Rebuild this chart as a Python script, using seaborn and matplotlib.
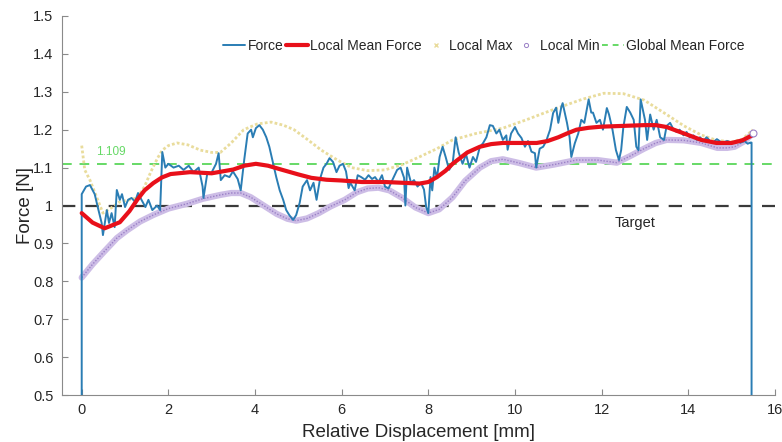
import matplotlib
matplotlib.use('Agg')
import matplotlib.pyplot as plt
from matplotlib.lines import Line2D
import pandas as pd
import seaborn as sns

# ---- data ----
force_x = [0.0, 0.0, 0.1, 0.19, 0.3, 0.37, 0.46, 0.49, 0.58, 0.63, 0.69, 0.76, 0.81, 0.88, 0.93, 1.0,
           1.07, 1.15, 1.23, 1.3, 1.38, 1.47, 1.54, 1.63, 1.74, 1.81, 1.86, 1.93, 2.0, 2.12, 2.24, 2.35,
           2.47, 2.58, 2.7, 2.79, 2.81, 2.9, 2.98, 3.1, 3.16, 3.21, 3.3, 3.41, 3.49, 3.6, 3.67, 3.75,
           3.83, 3.91, 3.95, 4.02, 4.1, 4.18, 4.26, 4.33, 4.42, 4.49, 4.57, 4.65, 4.72, 4.79, 4.88,
           4.95, 5.03, 5.1, 5.2, 5.27, 5.35, 5.42, 5.5, 5.58, 5.65, 5.72, 5.8, 5.88, 5.95, 6.03, 6.1,
           6.16, 6.2, 6.3, 6.37, 6.45, 6.54, 6.62, 6.7, 6.77, 6.85, 6.93, 7.0, 7.08, 7.16, 7.28, 7.36,
           7.44, 7.47, 7.51, 7.6, 7.67, 7.75, 7.83, 7.9, 7.95, 8.0, 8.05, 8.09, 8.14, 8.2, 8.26, 8.33,
           8.4, 8.48, 8.56, 8.63, 8.7, 8.79, 8.87, 8.95, 9.03, 9.1, 9.19, 9.26, 9.34, 9.42, 9.49, 9.57,
           9.64, 9.72, 9.8, 9.83, 9.91, 10.0, 10.07, 10.15, 10.23, 10.3, 10.38, 10.46, 10.49, 10.57,
           10.65, 10.72, 10.81, 10.88, 10.95, 11.0, 11.07, 11.1, 11.2, 11.26, 11.3, 11.38, 11.46,
           11.53, 11.6, 11.7, 11.76, 11.8, 11.88, 11.96, 12.03, 12.12, 12.17, 12.25, 12.33, 12.4,
           12.45, 12.5, 12.58, 12.66, 12.74, 12.8, 12.85, 12.9, 13.0, 13.05, 13.12, 13.2, 13.27,
           13.35, 13.44, 13.5, 13.58, 13.66, 13.73, 13.8, 13.89, 13.96, 14.03, 14.12, 14.2, 14.27,
           14.35, 14.42, 14.55, 14.66, 14.77, 14.9, 15.0, 15.1, 15.2, 15.3, 15.37, 15.43, 15.46, 15.46]
force_y = [0.5, 1.03, 1.05, 1.054, 1.03, 0.996, 0.954, 0.922, 0.988, 0.954, 0.98, 0.943, 1.041, 1.015,
           1.03, 0.996, 1.015, 1.02, 1.01, 1.033, 1.015, 0.996, 1.015, 0.988, 1.0, 0.988, 1.141, 1.10,
           1.11, 1.1, 1.105, 1.094, 1.105, 1.088, 1.1, 1.05, 1.02, 1.086, 1.083, 1.11, 1.138, 1.067,
           1.08, 1.075, 1.09, 1.07, 1.04, 1.12, 1.19, 1.2, 1.18, 1.204, 1.212, 1.2, 1.18, 1.155, 1.11,
           1.075, 1.04, 1.015, 0.988, 0.975, 0.962, 0.975, 1.007, 1.05, 1.067, 1.04, 1.06, 1.015, 1.07,
           1.10, 1.11, 1.125, 1.115, 1.088, 1.105, 1.11, 1.09, 1.046, 1.06, 1.04, 1.08, 1.075, 1.068,
           1.08, 1.07, 1.075, 1.062, 1.08, 1.05, 1.045, 1.065, 1.094, 1.1, 1.073, 1.0, 1.1, 1.06, 1.067,
           1.05, 1.06, 1.042, 0.996, 0.98, 1.075, 1.04, 1.1, 1.073, 1.128, 1.155, 1.128, 1.094, 1.11,
           1.18, 1.14, 1.11, 1.135, 1.10, 1.128, 1.115, 1.155, 1.164, 1.18, 1.212, 1.21, 1.19, 1.2,
           1.173, 1.185, 1.147, 1.19, 1.207, 1.19, 1.178, 1.155, 1.17, 1.142, 1.138, 1.10, 1.15, 1.155,
           1.17, 1.2, 1.244, 1.258, 1.218, 1.26, 1.27, 1.218, 1.18, 1.128, 1.164, 1.19, 1.226, 1.218,
           1.28, 1.245, 1.245, 1.218, 1.226, 1.2, 1.257, 1.24, 1.2, 1.146, 1.12, 1.146, 1.206, 1.26,
           1.245, 1.226, 1.155, 1.146, 1.28, 1.226, 1.173, 1.24, 1.2, 1.226, 1.18, 1.173, 1.21, 1.218,
           1.2, 1.194, 1.2, 1.185, 1.194, 1.18, 1.185, 1.173, 1.18, 1.17, 1.18, 1.165, 1.175, 1.166,
           1.17, 1.166, 1.17, 1.166, 1.17, 1.163, 1.166, 1.166, 0.5]

mean_x = [0.0, 0.25, 0.53, 0.88, 1.1, 1.28, 1.45, 1.65, 1.85, 2.05, 2.5, 3.0, 3.5, 3.75, 4.02, 4.3,
          4.6, 5.0, 5.3, 5.65, 6.0, 6.47, 7.0, 7.4, 7.8, 8.0, 8.2, 8.4, 8.56, 8.9, 9.19, 9.45, 9.72,
          10.1, 10.5, 10.75, 11.0, 11.2, 11.42, 11.7, 12.0, 12.5, 12.98, 13.25, 13.5, 13.9, 14.3,
          14.65, 15.0, 15.25, 15.49]
mean_y = [0.98, 0.955, 0.94, 0.956, 0.985, 1.015, 1.04, 1.059, 1.074, 1.083, 1.088, 1.085, 1.095,
          1.105, 1.11, 1.105, 1.095, 1.082, 1.073, 1.068, 1.066, 1.062, 1.062, 1.06, 1.058, 1.062,
          1.075, 1.092, 1.11, 1.14, 1.155, 1.162, 1.165, 1.165, 1.165, 1.17, 1.18, 1.19, 1.2, 1.205,
          1.208, 1.21, 1.212, 1.212, 1.207, 1.19, 1.173, 1.165, 1.165, 1.172, 1.186]

max_x = [0.0, 0.07, 0.19, 0.37, 0.49, 0.7, 0.88, 1.1, 1.28, 1.45, 1.6, 1.75, 1.86, 2.0, 2.2, 2.45,
         2.74, 3.0, 3.2, 3.45, 3.74, 4.05, 4.37, 4.65, 4.9, 5.2, 5.53, 5.9, 6.23, 6.6, 7.0, 7.4, 7.79,
         8.2, 8.56, 9.1, 9.72, 10.26, 10.65, 11.05, 11.55, 12.05, 12.5, 12.98, 13.5, 13.9, 14.3,
         14.65, 15.0, 15.25, 15.49]
max_y = [1.158, 1.094, 1.067, 1.015, 0.98, 0.995, 1.01, 1.015, 1.02, 1.05, 1.09, 1.125, 1.146, 1.158,
         1.165, 1.16, 1.146, 1.14, 1.14, 1.165, 1.2, 1.215, 1.22, 1.212, 1.2, 1.175, 1.146, 1.12,
         1.10, 1.092, 1.094, 1.108, 1.128, 1.15, 1.173, 1.19, 1.204, 1.226, 1.243, 1.26, 1.28,
         1.296, 1.295, 1.278, 1.24, 1.21, 1.186, 1.172, 1.168, 1.175, 1.2]

min_x = [0.0, 0.25, 0.49, 0.81, 1.05, 1.35, 1.65, 2.0, 2.44, 2.8, 3.2, 3.45, 3.67, 3.9, 4.2, 4.5,
         4.75, 4.95, 5.2, 5.47, 5.75, 6.07, 6.35, 6.6, 6.85, 7.1, 7.4, 7.7, 8.0, 8.25, 8.56, 8.85,
         9.19, 9.45, 9.72, 10.1, 10.49, 10.9, 11.42, 11.9, 12.35, 12.65, 12.98, 13.25, 13.5, 13.9,
         14.3, 14.67, 14.9, 15.07, 15.3, 15.49]
min_y = [0.81, 0.845, 0.875, 0.914, 0.935, 0.958, 0.975, 0.992, 1.005, 1.018, 1.028, 1.033, 1.033,
         1.022, 1.0, 0.978, 0.965, 0.96, 0.966, 0.98, 0.998, 1.015, 1.035, 1.045, 1.047, 1.04, 1.02,
         0.995, 0.98, 0.99, 1.022, 1.065, 1.10, 1.117, 1.122, 1.112, 1.10, 1.108, 1.12, 1.12, 1.113,
         1.13, 1.15, 1.165, 1.173, 1.172, 1.165, 1.152, 1.152, 1.155, 1.17, 1.19]

global_mean = 1.109
target = 1.0

x_ticks = [0, 2, 4, 6, 8, 10, 12, 14, 16]
y_ticks = [0.5, 0.6, 0.7, 0.8, 0.9, 1.0, 1.1, 1.2, 1.3, 1.4, 1.5]
y_tick_labels = ['0.5', '0.6', '0.7', '0.8', '0.9', '1', '1.1', '1.2', '1.3', '1.4', '1.5']

# ---- styling ----
sns.set_theme(style='ticks')
plt.rcParams['font.family'] = ['Liberation Sans', 'DejaVu Sans']

c_force = '#2a7db4'
c_mean = '#e8101a'
c_max = '#e9dc9c'
c_min_fill = '#cdbde6'
c_min_edge = '#9a80c6'
c_global = '#66d966'
c_target = '#3a3a3a'
c_text = '#262626'
c_axis = '#8a8a8a'

fig = plt.figure(figsize=(7.82, 4.42), dpi=100)
ax = fig.add_axes([0.079, 0.106, 0.912, 0.858])

force_df = pd.DataFrame({'x': force_x, 'y': force_y})
mean_df = pd.DataFrame({'x': mean_x, 'y': mean_y})
max_df = pd.DataFrame({'x': max_x, 'y': max_y})
min_df = pd.DataFrame({'x': min_x, 'y': min_y})

ax.axhline(target, color=c_target, lw=1.6, dashes=(6, 4.5), zorder=1)
ax.axhline(global_mean, color=c_global, lw=1.4, dashes=(5, 4), zorder=1)

# local min drawn as a band of small circles
sns.lineplot(min_df, x='x', y='y', sort=False, estimator=None, color=c_min_fill, lw=4.5, ax=ax, zorder=2)
sns.lineplot(min_df, x='x', y='y', sort=False, estimator=None, color=c_min_edge, lw=1.0,
             dashes=[(1, 1.2)], style=[0] * len(min_x), legend=False, ax=ax, zorder=2)
# local max drawn as fine dotted crosses
sns.lineplot(max_df, x='x', y='y', sort=False, estimator=None, color=c_max, lw=2.0,
             dashes=[(1, 0.8)], style=[0] * len(max_x), legend=False, ax=ax, zorder=2)

sns.lineplot(force_df, x='x', y='y', sort=False, estimator=None, color=c_force, lw=1.4, ax=ax, zorder=3)
sns.lineplot(mean_df, x='x', y='y', sort=False, estimator=None, color=c_mean, lw=3.0, ax=ax, zorder=4)

ax.plot([min_x[-1]], [min_y[-1]], marker='o', ms=5, mfc='white', mec=c_min_edge, mew=0.8, zorder=5)

ax.text(0.68, 1.142, '1.109', color=c_global, fontsize=8.5, ha='center', va='center')
ax.text(12.78, 0.953, 'Target', color=c_text, fontsize=10.5, ha='center', va='center')

ax.set_xlim(-0.46, 16)
ax.set_ylim(0.5, 1.5)
ax.set_xticks(x_ticks)
ax.set_yticks(y_ticks)
ax.set_yticklabels(y_tick_labels)
ax.tick_params(direction='in', length=4, width=0.8, color=c_axis, labelsize=10.5, labelcolor=c_text, pad=6)
ax.set_xlabel('Relative Displacement [mm]', fontsize=13.5, color=c_text, labelpad=5)
ax.set_ylabel('Force [N]', fontsize=13.5, color=c_text, labelpad=-1)

sns.despine(ax=ax)
for side in ['left', 'bottom']:
    ax.spines[side].set_color(c_axis)
    ax.spines[side].set_linewidth(0.8)

handles = [
    Line2D([], [], color=c_force, lw=1.4),
    Line2D([], [], color=c_mean, lw=3.0),
    Line2D([], [], color=c_max, marker='x', ms=2.5, lw=0),
    Line2D([], [], color=c_min_edge, marker='o', ms=3, mfc='none', mew=0.7, lw=0),
    Line2D([], [], color=c_global, lw=1.4, dashes=(3, 2.5)),
]
labels = ['Force', 'Local Mean Force', 'Local Max', 'Local Min', 'Global Mean Force']
fig.legend(handles, labels, loc='center', bbox_to_anchor=(484 / 782, 1 - 46 / 442), ncol=5,
           frameon=False, fontsize=10, handlelength=1.6, handletextpad=0.15, columnspacing=0.2,
           labelcolor=c_text)

fig.savefig('out.png', dpi=100)
plt.close(fig)
